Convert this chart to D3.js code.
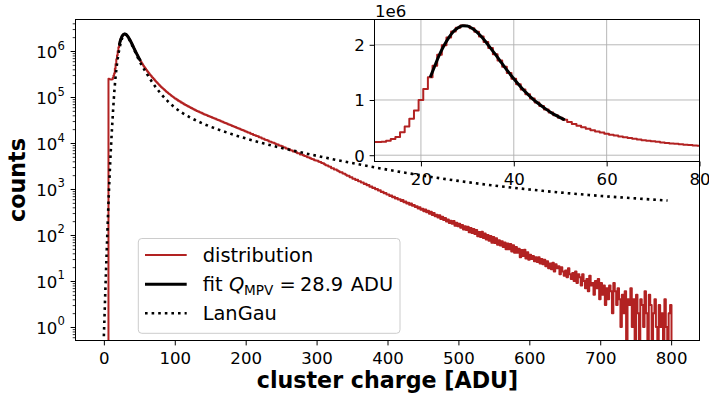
<!DOCTYPE html>
<html><head><meta charset="utf-8">
<script src="https://cdn.jsdelivr.net/npm/d3@7"></script>
<style>body{margin:0;background:#fff}svg{display:block}text{font-family:"DejaVu Sans",sans-serif;fill:#000}</style>
</head><body><svg id="c" width="709" height="399"></svg>
<script>
// ---------- data ----------
// histogram "distribution": 1-ADU bins centred on 7..100 ADU
const fineFirstCharge = 7;
const fineCounts = [
 250000,247000,243000,240000,240000,243000,262000,294000,330000,415000,
 520000,660000,810000,1000000,1200000,1410000,1620000,1820000,1990000,2130000,
 2240000,2310000,2350000,2340000,2300000,2235000,2150000,2050000,1940000,1830000,
 1715000,1600000,1490000,1385000,1285000,1190000,1105000,1025000,955000,890000,
 830000,775000,725000,680000,640000,602000,567000,535000,506000,479000,
 454000,431000,410000,390000,372000,355000,339000,324000,310000,297000,
 285000,273000,262000,252000,242000,232000,223000,214000,206000,198000,
 191000,184000,177000,171000,165600,160300,155200,150300,145900,141300,
 136800,132400,128500,124500,121100,117800,114600,111400,108400,105400,
 102600,99800,97000,94400];
// tail: 2-ADU bins from 100.5 to 800.5 ADU (counts per ADU)
const tailFirstEdge = 100.5, tailBinWidth = 2;
const tailCounts = [
 91200,87100,83200,79400,75900, 72750,69860,67080,64420,61860, 59620,57510,55480,53520,51630,
 49910,48280,46710,45190,43710, 42400,41180,39980,38820,37700, 36600,35540,34510,33500,32530,
 31580,30670,29780,28910,28070, 27260,26470,25700,24950,24230, 23520,22840,22180,21530,20910,
 20300,19710,19140,18580,18040, 17620,16920,16610,15930,15670, 15010,14780,14150,13960,13300,
 13150,12570,12400,11840,11690, 11350,10840,10700,10210,10090, 9790,9350,9240,8810,8710,
 8450,8070,7970,7600,7520, 7290,6960,6880,6560,6490, 6290,6010,5950,5650,5600,
 5430,5190,5140,4880,4840, 4690,4470,4430,4220,4170, 4090,3910,3850,3680,3610,
 3440,3280,3240,3090,3050, 2840,2810,2670,2650,2510, 2440,2310,2300,2170,2150,
 2050,1930,1930,1810,1810, 1680,1680,1570,1580,1470, 1470,1380,1390,1290,1300,
 1200,1220,1120,1130,1050, 1060,985,995,925,935, 860,870,805,815,760,
 762,707,721,665,677, 618,640,589,602,548, 580,514,532,485,500,
 455,482,431,447,406, 421,379,403,355,372, 329,360,311,335,289,
 320,273,300,257,277, 240,270,223,248,212, 235,196,218,182,204,
 175,202,159,184,154, 176,143,166,132,155, 128,152,115,142,110,
 135,105,128,94,116, 90,117,86,108,80, 100,75,95,68,90,
 67,85,61,77,59, 73,55,69,49,65, 49,64,44,60,41,
 55,41,50,33,47, 35,48,31,42,29, 37,30,35,27,33,
 26,33,24,30,23, 29,21,27,19,24, 18,25,16,23,19,
 21,14,20,16,13, 17,12,19,14,11, 15,10,16,9,14,
 12,8,14,10,7, 11,6,13,8,9, 5,10,7,11,4,
 9,5,8,3,7, 4,8,6,2,9, 6,3,7,4,1,
 5,2,6,0,4, 3,7,1,4,0, 5,2,0,4,3,
 1,6,2,0,5, 3,0,2,4,1, 0,3,1,2,0,
 4,1,0,2,3];
// Landau fit around the peak
const fitCharge = [22,23,24,25,26,27,28,29,30,31,32,33,34,35,36,37,38,39,40,41,42,43,44,45,46,47,48,49,50,51];
const fitCounts = [1410000,1620000,1820000,1990000,2130000,2240000,2310000,2345000,2340000,2300000,
 2235000,2150000,2050000,1940000,1830000,1715000,1600000,1490000,1385000,1285000,
 1190000,1105000,1025000,955000,890000,830000,775000,725000,680000,640000];
// LanGau curve
const langauCharge = [0,1,2,3,4,5,6,7,8,9,10,11,12,13,14,15,16,17,18,19,20,22,24,26,28,29,30,32,35,40,45,50,60,70,80,90,100,120,140,160,180,200,225,250,275,300,350,400,450,500,550,600,650,700,750,795];
const langauCounts = [0.63,1.86,5.6,16.2,44.7,120,316,776,1780,3890,7940,15500,28200,51300,89100,145000,224000,324000,447000,589000,759000,1120000,1550000,1950000,2240000,2330000,2320000,2190000,1860000,1320000,891000,617000,331000,191000,120000,81300,58900,37150,26300,19950,15670,12590,9820,7850,6400,5270,3670,2630,1950,1500,1190,977,822,708,624,562];
// ticks
const xTicksMain = [0,100,200,300,400,500,600,700,800];
const yTickExponents = [0,1,2,3,4,5,6];
const insetXTicks = [20,40,60,80];
const insetYTicks = [0,1e6,2e6];
const legendLabels = ["distribution","fit","LanGau"];

// ---------- drawing ----------
const RED = "#b22222";
const svg = d3.select("#c");
svg.append("rect").attr("width",709).attr("height",399).attr("fill","#fff");
const M = {l:75.5, r:699.5, t:19.5, b:340.5};
const x = d3.scaleLinear([-40,840],[M.l,M.r]);
const y = d3.scaleLog([Math.pow(10,-0.2935),Math.pow(10,6.6848)],[M.b,M.t]);

const bins = [];
fineCounts.forEach((v,i)=>{const c=fineFirstCharge+i; bins.push({x0:c-0.5,x1:c+0.5,v});});
tailCounts.forEach((v,i)=>{const e=tailFirstEdge+i*tailBinWidth; bins.push({x0:e,x1:e+tailBinWidth,v});});

function stepPts(xs, yf, floor){
  const pts=[[xs(bins[0].x0),floor]];
  bins.forEach(b=>{const yy=b.v>0?yf(b.v):floor; pts.push([xs(b.x0),yy],[xs(b.x1),yy]);});
  pts.push([xs(bins[bins.length-1].x1),floor]);
  return pts;
}
const defs = svg.append("defs");
defs.append("clipPath").attr("id","cm").append("rect").attr("x",M.l).attr("y",M.t).attr("width",M.r-M.l).attr("height",M.b-M.t);

const gm = svg.append("g").attr("clip-path","url(#cm)");
gm.append("path").attr("d",d3.line()(stepPts(x,y,M.b+40))).attr("fill","none").attr("stroke",RED).attr("stroke-width",2).attr("stroke-linejoin","round");
gm.append("path").attr("d",d3.line().x((d,i)=>x(fitCharge[i])).y(d=>y(d)).curve(d3.curveMonotoneX)(fitCounts))
  .attr("fill","none").attr("stroke","#000").attr("stroke-width",3).attr("stroke-linecap","round");
gm.append("path").attr("d",d3.line().x((d,i)=>x(langauCharge[i])).y(d=>y(d)).curve(d3.curveMonotoneX)(langauCounts))
  .attr("fill","none").attr("stroke","#000").attr("stroke-width",2.6).attr("stroke-dasharray","2.6,4");

// main axes
const gx = svg.append("g").attr("transform",`translate(0,${M.b})`)
  .call(d3.axisBottom(x).tickValues(xTicksMain).tickSize(4.9).tickPadding(6.8).tickFormat(d3.format("d")));
gx.select(".domain").remove();
gx.selectAll("text").attr("font-size",16.6).attr("font-family","DejaVu Sans").attr("fill","#000");
gx.selectAll("line").attr("stroke","#000").attr("stroke-width",1);

const majors = yTickExponents.map(e=>Math.pow(10,e));
const minors = [];
for(let e=-1;e<=6;e++) for(let m=2;m<=9;m++){const v=m*Math.pow(10,e); if(y(v)<=M.b && y(v)>=M.t) minors.push(v);}
const gy = svg.append("g").attr("transform",`translate(${M.l},0)`)
  .call(d3.axisLeft(y).tickValues(majors).tickSize(4.9).tickFormat(""));
gy.select(".domain").remove();
gy.selectAll("line").attr("stroke","#000").attr("stroke-width",1);
const gy2 = svg.append("g").attr("transform",`translate(${M.l},0)`)
  .call(d3.axisLeft(y).tickValues(minors).tickSize(2.8).tickFormat(""));
gy2.select(".domain").remove();
gy2.selectAll("line").attr("stroke","#000").attr("stroke-width",0.8);
yTickExponents.forEach(e=>{
  const yy=y(Math.pow(10,e));
  svg.append("text").attr("x",57.4).attr("y",yy+7).attr("text-anchor","end").attr("font-size",16.6).text("10");
  svg.append("text").attr("x",57.6).attr("y",yy-1.5).attr("font-size",11.6).text(e);
});
svg.append("rect").attr("x",M.l).attr("y",M.t).attr("width",M.r-M.l).attr("height",M.b-M.t).attr("fill","none").attr("stroke","#000").attr("stroke-width",1);

svg.append("text").attr("x",387.5).attr("y",388).attr("text-anchor","middle").attr("font-size",22.2).attr("font-weight","bold").text("cluster charge [ADU]");
svg.append("text").attr("transform","translate(25,180) rotate(-90)").attr("text-anchor","middle").attr("font-size",22.2).attr("font-weight","bold").text("counts");

// legend
const lg = svg.append("g");
lg.append("rect").attr("x",138.3).attr("y",238.5).attr("width",261.7).attr("height",94.8).attr("rx",3.5)
  .attr("fill","#fff").attr("fill-opacity",0.8).attr("stroke","#cccccc").attr("stroke-width",1);
const ly=[255,284.3,313.3];
lg.append("line").attr("x1",145).attr("x2",186.7).attr("y1",ly[0]).attr("y2",ly[0]).attr("stroke",RED).attr("stroke-width",2);
lg.append("line").attr("x1",145).attr("x2",186.7).attr("y1",ly[1]).attr("y2",ly[1]).attr("stroke","#000").attr("stroke-width",3);
lg.append("line").attr("x1",145).attr("x2",186.7).attr("y1",ly[2]).attr("y2",ly[2]).attr("stroke","#000").attr("stroke-width",2.6).attr("stroke-dasharray","2.6,4");
lg.append("text").attr("x",202.7).attr("y",ly[0]+6.8).attr("font-size",19.4).text(legendLabels[0]);
const t2 = lg.append("text").attr("y",ly[1]+6.8).attr("font-size",19.4);
t2.append("tspan").attr("x",202.7).text(legendLabels[1]);
t2.append("tspan").attr("x",229).attr("font-style","italic").text("Q");
t2.append("tspan").attr("x",244).attr("dy",3.8).attr("font-size",13.6).text("MPV");
t2.append("tspan").attr("x",279.5).attr("dy",-3.8).text("=");
t2.append("tspan").attr("x",300).text("28.9");
t2.append("tspan").attr("x",350.7).text("ADU");
lg.append("text").attr("x",202.7).attr("y",ly[2]+6.8).attr("font-size",19.4).text(legendLabels[2]);

// inset
const I = {l:374.5, r:699.5, t:19.5, b:161.5};
const xi = d3.scaleLinear([10,80],[I.l,I.r]);
const yi = d3.scaleLinear([-114000,2458000],[I.b,I.t]);
defs.append("clipPath").attr("id","ci").append("rect").attr("x",I.l).attr("y",I.t).attr("width",I.r-I.l).attr("height",I.b-I.t);
svg.append("rect").attr("x",I.l).attr("y",I.t).attr("width",I.r-I.l).attr("height",I.b-I.t).attr("fill","#fff");
const gi = svg.append("g").attr("clip-path","url(#ci)");
insetXTicks.forEach(t=>gi.append("line").attr("x1",xi(t)).attr("x2",xi(t)).attr("y1",I.t).attr("y2",I.b).attr("stroke","#b0b0b0").attr("stroke-width",0.9));
insetYTicks.forEach(t=>gi.append("line").attr("x1",I.l).attr("x2",I.r).attr("y1",yi(t)).attr("y2",yi(t)).attr("stroke","#b0b0b0").attr("stroke-width",0.9));
gi.append("path").attr("d",d3.line()(stepPts(xi,yi,yi(0)))).attr("fill","none").attr("stroke",RED).attr("stroke-width",2).attr("stroke-linejoin","round");
gi.append("path").attr("d",d3.line().x((d,i)=>xi(fitCharge[i])).y(d=>yi(d)).curve(d3.curveMonotoneX)(fitCounts))
  .attr("fill","none").attr("stroke","#000").attr("stroke-width",3).attr("stroke-linecap","butt");
const gix = svg.append("g").attr("transform",`translate(0,${I.b})`)
  .call(d3.axisBottom(xi).tickValues(insetXTicks).tickSize(4.9).tickPadding(7.1).tickFormat(d3.format("d")));
gix.select(".domain").remove();
gix.selectAll("text").attr("font-size",16.6).attr("font-family","DejaVu Sans").attr("fill","#000");
gix.selectAll("line").attr("stroke","#000");
const giy = svg.append("g").attr("transform",`translate(${I.l},0)`)
  .call(d3.axisLeft(yi).tickValues(insetYTicks).tickSize(4.9).tickPadding(4.8).tickFormat(d=>d3.format("d")(d/1e6)));
giy.select(".domain").remove();
giy.selectAll("text").attr("font-size",16.6).attr("font-family","DejaVu Sans").attr("fill","#000").attr("dy","0.36em");
giy.selectAll("line").attr("stroke","#000");
svg.append("rect").attr("x",I.l).attr("y",I.t).attr("width",I.r-I.l).attr("height",I.b-I.t).attr("fill","none").attr("stroke","#000").attr("stroke-width",1);
svg.append("text").attr("x",375).attr("y",16.5).attr("font-size",16.6).text("1e6");
</script></body></html>
